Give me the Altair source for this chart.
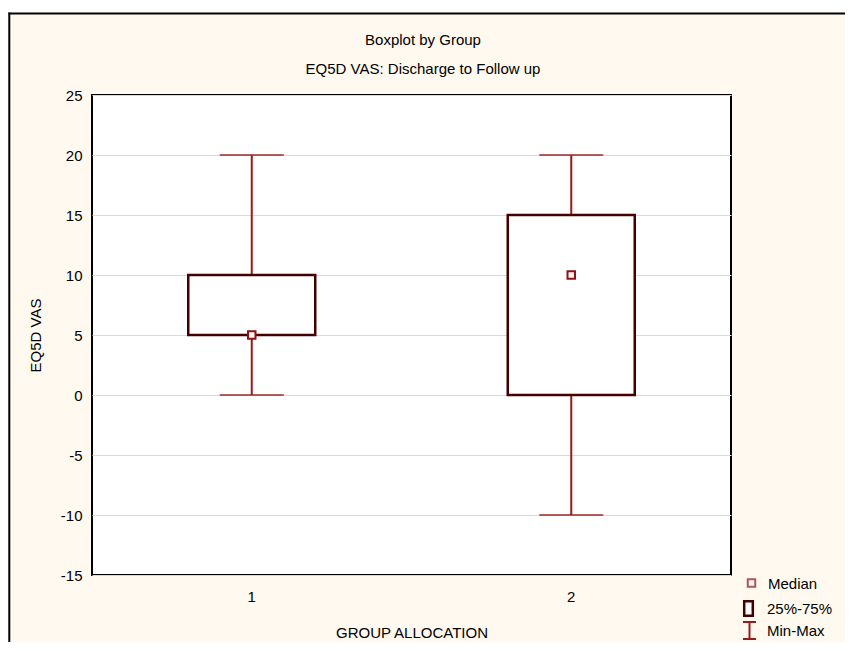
import altair as alt
import pandas as pd

# ---- data ----
groups = ["1", "2"]
mins = [0, -10]
q1s = [5, 0]
medians = [5, 10]
q3s = [10, 15]
maxs = [20, 20]

y_ticks = [-15, -10, -5, 0, 5, 10, 15, 20, 25]
title_text = "Boxplot by  Group"
subtitle_text = "EQ5D VAS: Discharge to Follow up"
x_title = "GROUP ALLOCATION"
y_title = "EQ5D VAS"
legend_labels = ["Median", "25%-75%", "Min-Max"]

df = pd.DataFrame({"group": groups, "min": mins, "q1": q1s, "median": medians,
                   "q3": q3s, "max": maxs})

FONT = "Liberation Sans"
FS = 15
BG = "#FFF9EF"
BOX_C = "#420000"
WH_C = "#981A1A"
MED_C = "#8E1212"

W, H = 639, 480

x_enc = alt.X("group:N", title=x_title,
              scale=alt.Scale(domain=groups, paddingInner=0.5, paddingOuter=0.25),
              axis=alt.Axis(labelAngle=0, labelFontSize=FS, labelFont=FONT, labelColor="black",
                            ticks=False, tickSize=0, labelPadding=14, domain=False, grid=False,
                            titleFont=FONT, titleFontSize=FS, titleFontWeight="normal",
                            titleColor="black", titleY=57, titleBaseline="middle"))
y_scale = alt.Scale(domain=[-15, 25], nice=False, zero=False)
y_enc = alt.Y("min:Q", scale=y_scale,
              axis=alt.Axis(values=y_ticks, labelFontSize=FS, labelFont=FONT, labelColor="black",
                            labelExpr="'' + datum.value",
                            ticks=False, tickSize=0, labelPadding=10, domain=False,
                            grid=True, gridColor="#D9D9D9", gridWidth=1,
                            title=y_title, titleFont=FONT, titleFontSize=FS,
                            titleFontWeight="normal", titleColor="black",
                            titleX=-57, titleY=240, titleAngle=-90, titleBaseline="middle"))

base = alt.Chart(df)

whisker = base.mark_rule(color=WH_C, strokeWidth=2).encode(
    x=x_enc, y=y_enc, y2="max:Q")
box = base.mark_bar(size=127, fill="white", stroke=BOX_C, strokeWidth=2.5).encode(
    x="group:N", y=alt.Y("q1:Q", scale=y_scale), y2="q3:Q")
cap_lo = base.mark_tick(size=64, thickness=2, color=WH_C).encode(
    x="group:N", y=alt.Y("min:Q", scale=y_scale))
cap_hi = base.mark_tick(size=64, thickness=2, color=WH_C).encode(
    x="group:N", y=alt.Y("max:Q", scale=y_scale))
med = base.mark_square(size=56, filled=True, fill="#FFF6F6", stroke=MED_C, strokeWidth=2,
                       opacity=1).encode(x="group:N", y=alt.Y("median:Q", scale=y_scale))

one = alt.Data(values=[{"a": 1}])

# outer frame (white strip above, black frame lines)
strip = alt.Chart(one).mark_rect(fill="white", clip=False).encode(
    x=alt.value(-90), x2=alt.value(W + 130), y=alt.value(-90), y2=alt.value(-82.5))
frame_top = alt.Chart(one).mark_rule(color="black", strokeWidth=2, clip=False).encode(
    x=alt.value(-83.5), x2=alt.value(W + 130), y=alt.value(-81.5))
frame_left = alt.Chart(one).mark_rule(color="black", strokeWidth=2, clip=False).encode(
    x=alt.value(-82.7), y=alt.value(-82.5), y2=alt.value(H + 80))

t1 = alt.Chart(one).mark_text(text=title_text, font=FONT, fontSize=FS, color="black",
                              baseline="middle", align="center").encode(
    x=alt.value(331), y=alt.value(-55))
t2 = alt.Chart(one).mark_text(text=subtitle_text, font=FONT, fontSize=FS, color="black",
                              baseline="middle", align="center").encode(
    x=alt.value(331), y=alt.value(-26))

# custom legend
lg_med = alt.Chart(one).mark_square(size=56, filled=True, fill="#FFF6F6", stroke=MED_C,
                                    strokeWidth=2, clip=False).encode(
    x=alt.value(659.5), y=alt.value(488))
lg_box = alt.Chart(one).mark_rect(fill="white", stroke=BOX_C, strokeWidth=2.5, clip=False).encode(
    x=alt.value(652.2), x2=alt.value(660.8), y=alt.value(506.2), y2=alt.value(520.8))
lg_wv = alt.Chart(one).mark_rule(color=WH_C, strokeWidth=2, clip=False).encode(
    x=alt.value(657.5), y=alt.value(527), y2=alt.value(544))
lg_wt = alt.Chart(one).mark_rule(color=WH_C, strokeWidth=2, clip=False).encode(
    x=alt.value(651), x2=alt.value(664), y=alt.value(527))
lg_wb = alt.Chart(one).mark_rule(color=WH_C, strokeWidth=2, clip=False).encode(
    x=alt.value(651), x2=alt.value(664), y=alt.value(544))
lg_texts = [
    alt.Chart(one).mark_text(text=lab, font=FONT, fontSize=FS, color="black", align="left",
                             baseline="middle", clip=False).encode(
        x=alt.value(xx), y=alt.value(yy))
    for lab, xx, yy in zip(legend_labels, [676, 675, 675], [489, 514, 536])
]

chart = alt.layer(
    strip, frame_top, frame_left, t1, t2,
    whisker, box, cap_lo, cap_hi, med,
    lg_med, lg_box, lg_wv, lg_wt, lg_wb, *lg_texts
).properties(
    width=W, height=H,
    autosize=alt.AutoSizeParams(type="none"),
    padding={"left": 84, "top": 87, "right": 114, "bottom": 67},
    background=BG,
).configure_view(fill="white", stroke="black", strokeWidth=2)

chart.save("out.html", embed_options={"renderer": "svg", "actions": False})
